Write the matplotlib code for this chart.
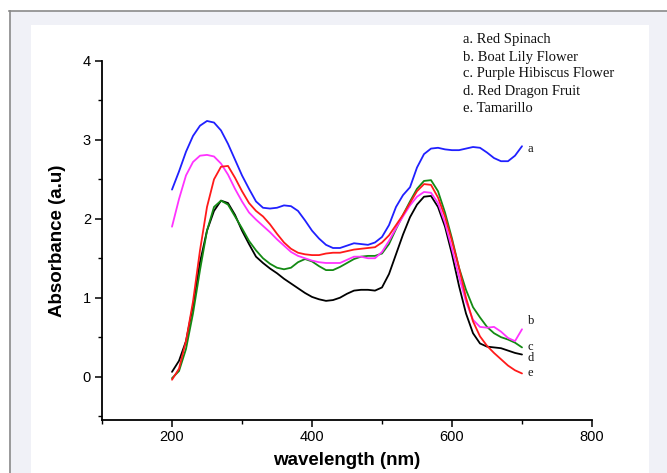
import matplotlib
matplotlib.use("Agg")
import matplotlib.pyplot as plt
from matplotlib.patches import Rectangle
from matplotlib.lines import Line2D
from matplotlib.ticker import MultipleLocator

wavelength = list(range(200, 701, 10))

red_spinach = [2.37, 2.60, 2.85, 3.05, 3.18, 3.24, 3.22, 3.12, 2.95, 2.75,
               2.55, 2.38, 2.22, 2.14, 2.13, 2.14, 2.17, 2.16, 2.10, 1.98,
               1.85, 1.75, 1.67, 1.63, 1.63, 1.66, 1.69, 1.68, 1.67, 1.70,
               1.77, 1.92, 2.15, 2.30, 2.40, 2.65, 2.82, 2.89, 2.90, 2.88,
               2.87, 2.87, 2.89, 2.91, 2.90, 2.84, 2.77, 2.73, 2.73, 2.80,
               2.92]
boat_lily = [1.90, 2.25, 2.55, 2.72, 2.80, 2.81, 2.79, 2.70, 2.56, 2.38,
             2.22, 2.08, 1.99, 1.91, 1.83, 1.74, 1.66, 1.58, 1.53, 1.50,
             1.47, 1.45, 1.44, 1.44, 1.44, 1.48, 1.52, 1.52, 1.50, 1.50,
             1.58, 1.72, 1.88, 2.03, 2.17, 2.28, 2.34, 2.33, 2.20, 1.95,
             1.62, 1.27, 0.95, 0.72, 0.63, 0.62, 0.63, 0.57, 0.49, 0.45,
             0.60]
purple_hibiscus = [-0.02, 0.07, 0.35, 0.80, 1.35, 1.85, 2.15, 2.23, 2.18, 2.03,
                   1.88, 1.72, 1.60, 1.50, 1.43, 1.38, 1.36, 1.38, 1.45, 1.49,
                   1.46, 1.40, 1.35, 1.35, 1.39, 1.44, 1.49, 1.52, 1.53, 1.53,
                   1.56, 1.68, 1.87, 2.05, 2.22, 2.38, 2.48, 2.49, 2.35, 2.08,
                   1.75, 1.38, 1.10, 0.88, 0.75, 0.63, 0.55, 0.50, 0.47, 0.43,
                   0.37]
red_dragon = [0.06, 0.20, 0.45, 0.90, 1.45, 1.85, 2.10, 2.23, 2.20, 2.05,
              1.85, 1.68, 1.52, 1.44, 1.37, 1.31, 1.24, 1.18, 1.12, 1.06,
              1.01, 0.98, 0.96, 0.97, 1.00, 1.05, 1.09, 1.10, 1.10, 1.09,
              1.13, 1.30, 1.55, 1.80, 2.02, 2.18, 2.28, 2.29, 2.15, 1.90,
              1.55, 1.15, 0.80, 0.55, 0.42, 0.38, 0.37, 0.36, 0.33, 0.30,
              0.28]
tamarillo = [-0.04, 0.10, 0.45, 0.95, 1.60, 2.15, 2.50, 2.66, 2.67, 2.52,
             2.35, 2.20, 2.10, 2.03, 1.93, 1.81, 1.70, 1.62, 1.57, 1.55,
             1.54, 1.54, 1.56, 1.57, 1.57, 1.59, 1.61, 1.62, 1.63, 1.64,
             1.70, 1.79, 1.92, 2.05, 2.20, 2.35, 2.44, 2.43, 2.27, 2.03,
             1.72, 1.38, 1.00, 0.70, 0.51, 0.39, 0.30, 0.22, 0.14, 0.08,
             0.04]

legend_lines = ["a. Red Spinach", "b. Boat Lily Flower", "c. Purple Hibiscus Flower",
                "d. Red Dragon Fruit", "e. Tamarillo"]
end_labels = ["a", "b", "c", "d", "e"]
x_ticks = [200, 400, 600, 800]
y_ticks = [0, 1, 2, 3, 4]

W, H = 667, 473
fig = plt.figure(figsize=(W / 100, H / 100), dpi=100)
fig.patch.set_facecolor("white")

def fx(px):
    return px / W

def fy(py):
    return 1 - py / H

# background panels
fig.patches.append(Rectangle((fx(9), 0), fx(W - 9), fy(11), transform=fig.transFigure,
                             facecolor="#f0f1f7", edgecolor="none", zorder=-3))
fig.patches.append(Rectangle((fx(31), 0), fx(649 - 31), fy(25), transform=fig.transFigure,
                             facecolor="white", edgecolor="none", zorder=-2))
fig.lines.append(Line2D([fx(9), 1], [fy(11.5), fy(11.5)], transform=fig.transFigure,
                        color="#8a8a8a", lw=1.2))
fig.lines.append(Line2D([fx(9.5), fx(9.5)], [0, fy(11.5)], transform=fig.transFigure,
                        color="#8a8a8a", lw=1.2))

ax = fig.add_axes([fx(102), fy(420), fx(592 - 102), fy(61) - fy(420)])
ax.set_facecolor("none")

series = [red_spinach, boat_lily, purple_hibiscus, red_dragon, tamarillo]
colors = ["#2020ff", "#ff33ff", "#138a13", "#000000", "#ff1a1a"]
order = [3, 2, 1, 4, 0]
for i in order:
    ax.plot(wavelength, series[i], color=colors[i], lw=1.3, solid_capstyle="round")

ax.set_xlim(100, 800)
ax.set_ylim(-0.55, 4)
ax.set_xticks(x_ticks)
ax.set_yticks(y_ticks)
ax.xaxis.set_minor_locator(MultipleLocator(100))
ax.yaxis.set_minor_locator(MultipleLocator(0.5))
for s in ["top", "right"]:
    ax.spines[s].set_visible(False)
for s in ["left", "bottom"]:
    ax.spines[s].set_linewidth(1.3)
ax.tick_params(which="major", direction="out", length=5, width=1.1, labelsize=10.5)
ax.tick_params(axis="x", which="major", pad=2)
ax.tick_params(axis="y", which="major", pad=3)
ax.tick_params(which="minor", direction="out", length=3, width=1.0)
for lab in ax.get_xticklabels() + ax.get_yticklabels():
    lab.set_family("Liberation Sans")

ax.set_xlabel("wavelength (nm)", fontsize=13.5, fontweight="bold", family="Liberation Sans", labelpad=6)
ax.set_ylabel("Absorbance (a.u)", fontsize=13.5, fontweight="bold", family="Liberation Sans", labelpad=12)

# legend text block
for k, t in enumerate(legend_lines):
    fig.text(fx(463), fy(40 + 17 * k), t, fontsize=10.5, family="Liberation Serif",
             va="center", ha="left", color="#111111")

# end-of-curve labels
end_y = [red_spinach[-1] - 0.03, boat_lily[-1] + 0.1, purple_hibiscus[-1] + 0.01,
         red_dragon[-1] - 0.05, tamarillo[-1] + 0.0]
for k, lab in enumerate(end_labels):
    ax.text(wavelength[-1] + 8, end_y[k], lab, fontsize=9, family="Liberation Serif",
            va="center", ha="left", color="#111111")

fig.savefig("out.png", dpi=100)
